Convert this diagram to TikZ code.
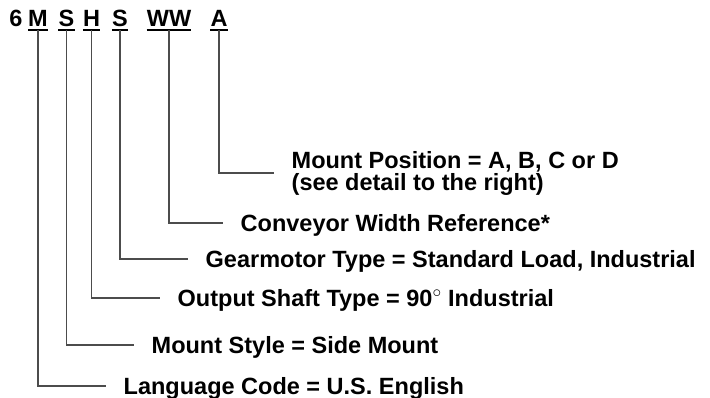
\documentclass[tikz,border=0pt]{standalone}
\usepackage{fontspec}
\setmainfont{Liberation Sans}

\begin{document}
\begin{tikzpicture}[
    x=1pt, y=-1pt,
    every node/.style={font=\bfseries\fontsize{23.5}{22}\selectfont},
    code/.style={inner sep=0pt, anchor=base, text height=16.8pt, text depth=3pt},
    descr/.style={anchor=west, inner xsep=17.5pt, inner ysep=0pt, align=left},
    oneline/.style={descr, text height=16.8pt, text depth=0pt},
    lead/.style={draw=black!70, line width=1.3pt},
    uline/.style={line width=2pt}
]
\useasboundingbox (0,0) rectangle (710,398);

% Model code
\node[code] (six) at (16,27) {6};
\node[code] (lang) at (38,27) {M};
\node[code] (style) at (66.5,27) {S};
\node[code] (shaft) at (91.5,27) {H};
\node[code] (gear) at (120,27) {S};
\node[code] (width) at (169,27) {WW};
\node[code] (pos) at (219,27) {A};
\foreach \n in {lang,style,shaft,gear,width,pos}
    \draw[uline] (\n.south west) -- (\n.south east);

% Descriptions
\node[oneline] (langd) at (106,386) {Language Code = U.S. English};
\node[oneline] (styled) at (134,345) {Mount Style = Side Mount};
\node[oneline] (shaftd) at (160,298) {Output Shaft Type = 90$^\circ$ Industrial};
\node[oneline] (geard) at (188,259) {Gearmotor Type = Standard Load, Industrial};
\node[oneline] (widthd) at (223,223) {Conveyor Width Reference*};
\node[descr] (posd) at (274,173) {Mount Position = A, B, C or D\\(see detail to the right)};

% Leaders
\draw[lead] (lang.south) |- (langd.west);
\draw[lead] (style.south) |- (styled.west);
\draw[lead] (shaft.south) |- (shaftd.west);
\draw[lead] (gear.south) |- (geard.west);
\draw[lead] (width.south) |- (widthd.west);
\draw[lead] (pos.south) |- (posd.west);

\end{tikzpicture}
\end{document}
